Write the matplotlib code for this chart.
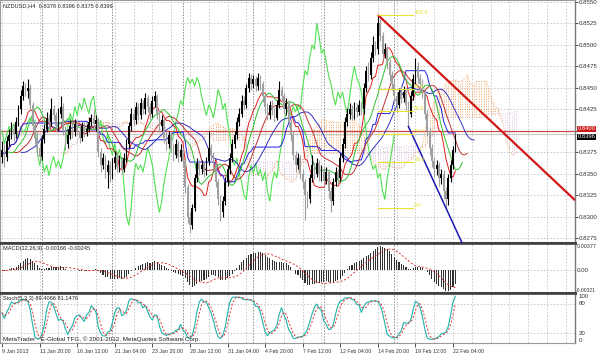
import numpy as np
import pandas as pd
import matplotlib
matplotlib.use("Agg")
import matplotlib.pyplot as plt
from matplotlib.transforms import blended_transform_factory

plt.rcParams['font.family'] = ['Liberation Sans', 'DejaVu Sans']

# ---------------- data (NZDUSD H4) ----------------
first_open = 0.8370
closes = [
    0.8378, 0.8370, 0.8388, 0.8395, 0.8402, 0.8396, 0.8410, 0.8425, 0.8440, 0.8452,
    0.8446, 0.8450, 0.8430, 0.8405, 0.8392, 0.8380, 0.8370, 0.8390, 0.8402, 0.8415,
    0.8410, 0.8425, 0.8418, 0.8405, 0.8420, 0.8428, 0.8400, 0.8385, 0.8395, 0.8405,
    0.8398, 0.8408, 0.8400, 0.8392, 0.8405, 0.8398, 0.8402, 0.8410, 0.8415, 0.8408,
    0.8412, 0.8375, 0.8360, 0.8368, 0.8352, 0.8360, 0.8348, 0.8362, 0.8370, 0.8358,
    0.8365, 0.8356, 0.8368, 0.8385, 0.8405, 0.8420, 0.8412, 0.8428, 0.8418, 0.8432,
    0.8425, 0.8438, 0.8428, 0.8420, 0.8435, 0.8440, 0.8420, 0.8405, 0.8412, 0.8392,
    0.8385, 0.8395, 0.8380, 0.8372, 0.8385, 0.8370, 0.8378, 0.8365, 0.8335, 0.8300,
    0.8290, 0.8310, 0.8345, 0.8362, 0.8355, 0.8360, 0.8352, 0.8365, 0.8380, 0.8372,
    0.8360, 0.8340, 0.8320, 0.8305, 0.8318, 0.8340, 0.8355, 0.8368, 0.8385, 0.8395,
    0.8410, 0.8420, 0.8435, 0.8430, 0.8450, 0.8462, 0.8455, 0.8460, 0.8452, 0.8462,
    0.8455, 0.8440, 0.8428, 0.8418, 0.8430, 0.8425, 0.8415, 0.8430, 0.8448, 0.8440,
    0.8425, 0.8432, 0.8410, 0.8395, 0.8372, 0.8360, 0.8368, 0.8350, 0.8340, 0.8325,
    0.8320, 0.8345, 0.8360, 0.8350, 0.8362, 0.8348, 0.8355, 0.8342, 0.8352, 0.8330,
    0.8318, 0.8340, 0.8352, 0.8345, 0.8368, 0.8385, 0.8410, 0.8420, 0.8425, 0.8418,
    0.8428, 0.8422, 0.8430, 0.8425, 0.8450, 0.8470, 0.8465, 0.8485, 0.8500, 0.8495,
    0.8525, 0.8510, 0.8490, 0.8495, 0.8480, 0.8465, 0.8455, 0.8440, 0.8430, 0.8445,
    0.8438, 0.8445, 0.8430, 0.8420, 0.8440, 0.8460, 0.8475, 0.8462, 0.8455, 0.8445,
    0.8420, 0.8400, 0.8380, 0.8365, 0.8355, 0.8360, 0.8345, 0.8350, 0.8330, 0.8320,
    0.8345, 0.8360, 0.8378, 0.8396,
]
highs = [
    0.8388, 0.8384, 0.8394, 0.8402, 0.8410, 0.8408, 0.8416, 0.8430, 0.8448, 0.8458,
    0.8456, 0.8460, 0.8454, 0.8434, 0.8410, 0.8398, 0.8386, 0.8395, 0.8408, 0.8422,
    0.8420, 0.8438, 0.8430, 0.8422, 0.8426, 0.8440, 0.8432, 0.8405, 0.8402, 0.8412,
    0.8410, 0.8414, 0.8412, 0.8405, 0.8410, 0.8410, 0.8408, 0.8416, 0.8420, 0.8425,
    0.8418, 0.8415, 0.8380, 0.8374, 0.8372, 0.8366, 0.8365, 0.8368, 0.8376, 0.8374,
    0.8372, 0.8370, 0.8374, 0.8390, 0.8410, 0.8426, 0.8425, 0.8434, 0.8432, 0.8438,
    0.8436, 0.8444, 0.8442, 0.8432, 0.8440, 0.8446, 0.8443, 0.8424, 0.8418, 0.8415,
    0.8398, 0.8400, 0.8398, 0.8385, 0.8390, 0.8388, 0.8384, 0.8380, 0.8368, 0.8338,
    0.8305, 0.8315, 0.8350, 0.8368, 0.8366, 0.8366, 0.8364, 0.8370, 0.8400, 0.8385,
    0.8375, 0.8364, 0.8344, 0.8325, 0.8324, 0.8346, 0.8360, 0.8374, 0.8390, 0.8400,
    0.8416, 0.8426, 0.8442, 0.8440, 0.8455, 0.8467, 0.8466, 0.8465, 0.8464, 0.8467,
    0.8465, 0.8458, 0.8444, 0.8432, 0.8435, 0.8436, 0.8428, 0.8436, 0.8458, 0.8452,
    0.8444, 0.8438, 0.8435, 0.8414, 0.8398, 0.8376, 0.8374, 0.8372, 0.8355, 0.8344,
    0.8330, 0.8350, 0.8372, 0.8364, 0.8368, 0.8366, 0.8360, 0.8358, 0.8358, 0.8355,
    0.8334, 0.8345, 0.8358, 0.8356, 0.8374, 0.8392, 0.8416, 0.8426, 0.8432, 0.8430,
    0.8434, 0.8432, 0.8436, 0.8434, 0.8456, 0.8476, 0.8480, 0.8492, 0.8510, 0.8505,
    0.8535, 0.8530, 0.8515, 0.8502, 0.8498, 0.8484, 0.8470, 0.8460, 0.8445, 0.8450,
    0.8452, 0.8452, 0.8448, 0.8435, 0.8446, 0.8466, 0.8485, 0.8480, 0.8466, 0.8460,
    0.8448, 0.8424, 0.8404, 0.8385, 0.8370, 0.8366, 0.8364, 0.8356, 0.8354, 0.8334,
    0.8350, 0.8366, 0.8382, 0.8396,
]
lows = [
    0.8362, 0.8358, 0.8365, 0.8382, 0.8390, 0.8388, 0.8392, 0.8405, 0.8420, 0.8436,
    0.8440, 0.8438, 0.8425, 0.8400, 0.8385, 0.8372, 0.8362, 0.8366, 0.8386, 0.8398,
    0.8402, 0.8406, 0.8412, 0.8398, 0.8400, 0.8415, 0.8395, 0.8378, 0.8380, 0.8390,
    0.8392, 0.8394, 0.8395, 0.8386, 0.8388, 0.8393, 0.8394, 0.8398, 0.8405, 0.8402,
    0.8400, 0.8370, 0.8352, 0.8355, 0.8345, 0.8333, 0.8340, 0.8344, 0.8356, 0.8352,
    0.8352, 0.8350, 0.8352, 0.8364, 0.8380, 0.8400, 0.8406, 0.8408, 0.8412, 0.8414,
    0.8420, 0.8420, 0.8422, 0.8414, 0.8416, 0.8428, 0.8414, 0.8398, 0.8400, 0.8386,
    0.8378, 0.8380, 0.8374, 0.8365, 0.8368, 0.8364, 0.8365, 0.8358, 0.8328, 0.8292,
    0.8281, 0.8285, 0.8306, 0.8340, 0.8348, 0.8350, 0.8346, 0.8348, 0.8360, 0.8366,
    0.8354, 0.8334, 0.8314, 0.8295, 0.8300, 0.8314, 0.8336, 0.8350, 0.8364, 0.8380,
    0.8390, 0.8405, 0.8416, 0.8424, 0.8426, 0.8445, 0.8448, 0.8450, 0.8446, 0.8448,
    0.8448, 0.8434, 0.8420, 0.8412, 0.8414, 0.8418, 0.8410, 0.8412, 0.8426, 0.8434,
    0.8420, 0.8418, 0.8404, 0.8388, 0.8366, 0.8352, 0.8355, 0.8344, 0.8332, 0.8296,
    0.8310, 0.8316, 0.8340, 0.8344, 0.8346, 0.8342, 0.8342, 0.8336, 0.8338, 0.8322,
    0.8305, 0.8314, 0.8336, 0.8338, 0.8342, 0.8364, 0.8380, 0.8405, 0.8414, 0.8412,
    0.8414, 0.8416, 0.8418, 0.8418, 0.8420, 0.8445, 0.8458, 0.8460, 0.8480, 0.8488,
    0.8490, 0.8504, 0.8484, 0.8485, 0.8472, 0.8458, 0.8448, 0.8432, 0.8422, 0.8426,
    0.8432, 0.8434, 0.8424, 0.8405, 0.8416, 0.8436, 0.8455, 0.8456, 0.8448, 0.8438,
    0.8414, 0.8394, 0.8372, 0.8358, 0.8346, 0.8348, 0.8336, 0.8338, 0.8320, 0.8310,
    0.8314, 0.8340, 0.8355, 0.8375,
]
time_labels = ["9 Jan 2013", "11 Jan 20:00", "16 Jan 12:00", "21 Jan 04:00",
               "23 Jan 20:00", "28 Jan 12:00", "31 Jan 04:00", "4 Feb 20:00",
               "7 Feb 12:00", "12 Feb 04:00", "14 Feb 20:00", "19 Feb 12:00",
               "22 Feb 04:00"]
label_step = 16           # bars between time labels
grid_step = 8             # bars between vertical grid lines
week_starts = [17, 47, 77, 107, 137, 167]   # Monday 00:00 bars
price_ticks = [0.8275, 0.8300, 0.8325, 0.8350, 0.8375, 0.8400, 0.8425,
               0.8450, 0.8475, 0.8500, 0.8525, 0.8550]
hline_price = 0.8400
bid_price = 0.8396
# trend lines (bar index, price)
red_trend_x = [160, 244]
red_trend_y = [0.8535, 0.8319]
blue_trend_x = [173, 189]
blue_trend_y = [0.8405, 0.8310]
# Fibonacci retracement (high / low anchors)
fib_high = 0.8535
fib_low = 0.8310
fib_levels = [0.0, 23.6, 38.2, 50.0, 61.8, 100.0]
fib_x = [160, 175]
macd_axis = [-0.00321, 0.0, 0.00377]
header_text = "NZDUSD,H4  0.8378 0.8396 0.8375 0.8396"
macd_text = "MACD(12,26,9) -0.00166 -0.00245"
stoch_text = "Stoch(5,3,3) 89.4066 81.1476"
copyright_text = "MetaTrader - E-Global TFG, \u00a9 2001-2012, MetaQuotes Software Corp."

# ---------------- derived series ----------------
n = len(closes)
x = np.arange(n)
c = pd.Series(closes)
h = pd.Series(highs)
l = pd.Series(lows)
o = pd.Series([first_open] + closes[:-1])

tenkan = (h.rolling(9, min_periods=1).max() + l.rolling(9, min_periods=1).min()) / 2
kijun = (h.rolling(26, min_periods=1).max() + l.rolling(26, min_periods=1).min()) / 2
spanA = (tenkan + kijun) / 2
spanB = (h.rolling(52, min_periods=1).max() + l.rolling(52, min_periods=1).min()) / 2

med = (h + l) / 2
jaw = med.ewm(alpha=1 / 13, adjust=False).mean()
teeth = med.ewm(alpha=1 / 8, adjust=False).mean()
lips = med.ewm(alpha=1 / 5, adjust=False).mean()

macd = c.ewm(span=12, adjust=False).mean() - c.ewm(span=26, adjust=False).mean()
signal = macd.rolling(9, min_periods=1).mean()

hh = h.rolling(5, min_periods=1).max()
ll = l.rolling(5, min_periods=1).min()
num = (c - ll).rolling(3, min_periods=1).sum()
den = (hh - ll).rolling(3, min_periods=1).sum()
stk = 100 * num / den
std = stk.rolling(3, min_periods=1).mean()

# ---------------- figure ----------------
W, H = 597, 354
fig = plt.figure(figsize=(W / 100, H / 100), dpi=100)
fig.patch.set_facecolor('white')
axw = 575 / W
ax1 = fig.add_axes([0, 1 - 243 / H, axw, 243 / H])
ax2 = fig.add_axes([0, 1 - 293 / H, axw, 49 / H])
ax3 = fig.add_axes([0, 1 - 343 / H, axw, 49 / H])

px_per_bar = 2.349
xlim = (-2 / px_per_bar, (575 - 2) / px_per_bar)
grid_kw = dict(color='#c4c4c4', lw=0.6, ls=(0, (2, 2)), zorder=0)
sep_kw = dict(color='#8a8a8a', lw=0.7, ls=(0, (1.5, 1.5)), zorder=0)
FS = 4.1          # small MetaTrader-like text
AXFS = 4.4        # right axis labels
axis_col = '#333333'

for ax in (ax1, ax2, ax3):
    ax.set_xlim(*xlim)
    ax.set_facecolor('white')
    for g in range(0, 244, grid_step):
        ax.axvline(g, **grid_kw)
    for wk in week_starts:
        ax.axvline(wk, **sep_kw)
    ax.yaxis.tick_right()
    ax.tick_params(axis='y', labelsize=AXFS, length=2, width=0.6, pad=1,
                   colors=axis_col, labelcolor=axis_col)
    for s in ('left', 'top', 'bottom'):
        ax.spines[s].set_color('#9a9a9a')
        ax.spines[s].set_linewidth(0.8)
    ax.spines['right'].set_color('#7a7a7a')
    ax.spines['right'].set_linewidth(1.0)

ax1.spines['bottom'].set_color('#404040'); ax1.spines['bottom'].set_linewidth(2.2)
ax2.spines['top'].set_color('#404040'); ax2.spines['top'].set_linewidth(1.2)
ax2.spines['bottom'].set_color('#404040'); ax2.spines['bottom'].set_linewidth(2.2)
ax3.spines['top'].set_color('#404040'); ax3.spines['top'].set_linewidth(1.2)

# ---- main panel ----
ytop = 0.8550 + 2 * 0.0001165
ybot = ytop - 243 * 0.0001165
ax1.set_ylim(ybot, ytop)
ax1.set_yticks(price_ticks)
# the 0.8400 level is shown by the red price box instead of a plain label
ax1.set_yticklabels(['' if abs(p - hline_price) < 1e-9 else '%.4f' % p
                     for p in price_ticks])
for p in price_ticks:
    ax1.axhline(p, **grid_kw)
ax1.set_xticks([])

# Ichimoku cloud (shifted 26 bars forward)
xc = x + 26
up = spanA.values >= spanB.values
lo_c = np.minimum(spanA.values, spanB.values)
hi_c = np.maximum(spanA.values, spanB.values)
ax1.vlines(xc[up], lo_c[up], hi_c[up], colors='#f4a460', lw=0.7,
           linestyles=(0, (1, 1.6)), zorder=1)
ax1.vlines(xc[~up], lo_c[~up], hi_c[~up], colors='#d8bfd8', lw=0.7,
           linestyles=(0, (1, 1.6)), zorder=1)
ax1.plot(xc, spanA, color='#f4a460', lw=0.6, ls=(0, (1, 1.5)), zorder=1)
ax1.plot(xc, spanB, color='#d8bfd8', lw=0.6, ls=(0, (1, 1.5)), zorder=1)

# horizontal lines
ax1.axhline(hline_price, color='#c84848', lw=0.9, zorder=2)
ax1.axhline(bid_price, color='#c8c8c8', lw=0.8, zorder=2)

# chikou span
ax1.plot(x[:-26], c.values[26:], color='#50e050', lw=0.8, zorder=3)
# tenkan / kijun
ax1.plot(x, tenkan, color='#e02020', lw=0.7, zorder=3)
ax1.plot(x, kijun, color='#2020e0', lw=0.7, zorder=3)
# alligator
ax1.plot(x + 8, jaw, color='#3030c0', lw=0.7, zorder=3)
ax1.plot(x + 5, teeth, color='#c03030', lw=0.7, zorder=3)
ax1.plot(x + 3, lips, color='#30c030', lw=0.7, zorder=3)

# candles
ov, cv = o.values, c.values
bull = cv >= ov
col = np.where(bull, '#000000', '#a0a0a0')
ax1.vlines(x, lows, highs, colors=col, lw=0.8, zorder=4)
body_lo = np.minimum(ov, cv)
body_h = np.maximum(np.abs(cv - ov), 0.00004)
ax1.bar(x, body_h, bottom=body_lo, width=0.72, color=col, linewidth=0, zorder=5)

# trend lines
ax1.plot(red_trend_x, red_trend_y, color='#d01818', lw=1.6, zorder=6,
         solid_capstyle='butt')
bs = (blue_trend_y[1] - blue_trend_y[0]) / (blue_trend_x[1] - blue_trend_x[0])
bx_end = 205
ax1.plot([blue_trend_x[0], bx_end],
         [blue_trend_y[0], blue_trend_y[0] + bs * (bx_end - blue_trend_x[0])],
         color='#1818b0', lw=1.1, zorder=6)

# Fibonacci
fib_col = '#e8e030'
for lv in fib_levels:
    p = fib_low + (fib_high - fib_low) * lv / 100
    ax1.plot(fib_x, [p, p], color=fib_col, lw=0.8, zorder=6)
    ax1.text(fib_x[1] + 0.5, p, '%.1f' % lv, fontsize=3.8, color=fib_col,
             va='bottom', ha='left', zorder=6)

# header
ax1.text(0.005, 0.985, header_text, transform=ax1.transAxes, fontsize=FS,
         va='top', ha='left', color='#202020')

# price boxes on the axis
tr1 = blended_transform_factory(ax1.transAxes, ax1.transData)
ax1.text(1.004, hline_price + 0.00022, '%.4f' % hline_price, transform=tr1,
         fontsize=4.2, color='white', va='center', ha='left', zorder=10,
         bbox=dict(boxstyle='square,pad=0.1', fc='#d01818', ec='none'),
         clip_on=False)
ax1.text(1.004, bid_price - 0.00030, '%.4f' % bid_price, transform=tr1,
         fontsize=4.2, color='white', va='center', ha='left', zorder=11,
         bbox=dict(boxstyle='square,pad=0.1', fc='#000000', ec='none'),
         clip_on=False)

# ---- MACD panel ----
ax2.set_ylim(macd_axis[0] - 0.00005, macd_axis[2] + 0.00005)
ax2.bar(x, macd, width=0.45, color='#303030', linewidth=0, zorder=3)
ax2.plot(x, signal, color='#e03030', lw=0.7, ls=(0, (2, 2)), zorder=4)
ax2.axhline(0, **grid_kw)
ax2.set_yticks([])
ax2.set_xticks([])
tr2 = blended_transform_factory(ax2.transAxes, ax2.transData)
ax2.text(1.003, macd_axis[2], '%.5f' % macd_axis[2], transform=tr2,
         fontsize=3.9, va='top', ha='left', color=axis_col)
ax2.text(1.003, 0, '0.00', transform=tr2, fontsize=AXFS, va='center',
         ha='left', color=axis_col)
ax2.text(1.001, macd_axis[0], '%.5f' % macd_axis[0], transform=tr2,
         fontsize=3.6, va='bottom', ha='left', color=axis_col)
ax2.text(0.005, 0.95, macd_text, transform=ax2.transAxes, fontsize=FS,
         va='top', ha='left', color='#202020')

# ---- Stochastic panel ----
ax3.set_ylim(0, 100)
ax3.axhline(20, **grid_kw)
ax3.axhline(80, **grid_kw)
ax3.plot(x, stk, color='#20b2aa', lw=0.8, zorder=3)
ax3.plot(x, std, color='#e03030', lw=0.7, ls=(0, (2, 2)), zorder=4)
ax3.set_yticks([])
tr3 = blended_transform_factory(ax3.transAxes, ax3.transData)
for val, va in ((100, 'top'), (80, 'center'), (20, 'center'), (0, 'bottom')):
    ax3.text(1.006, val, str(val), transform=tr3, fontsize=AXFS, va=va,
             ha='left', color=axis_col)
ax3.text(0.005, 0.95, stoch_text, transform=ax3.transAxes, fontsize=FS,
         va='top', ha='left', color='#202020')
ax3.text(0.005, 0.03, copyright_text, transform=ax3.transAxes, fontsize=4.5,
         va='bottom', ha='left', color='#202020')

tick_pos = [i * label_step for i in range(len(time_labels))]
ax3.set_xticks(tick_pos)
ax3.set_xticklabels(time_labels, ha='left', fontsize=3.8, color=axis_col)
ax3.tick_params(axis='x', length=3, width=0.6, pad=1.5, colors=axis_col,
                labelcolor=axis_col)

fig.savefig('out.png', dpi=100, facecolor='white')
